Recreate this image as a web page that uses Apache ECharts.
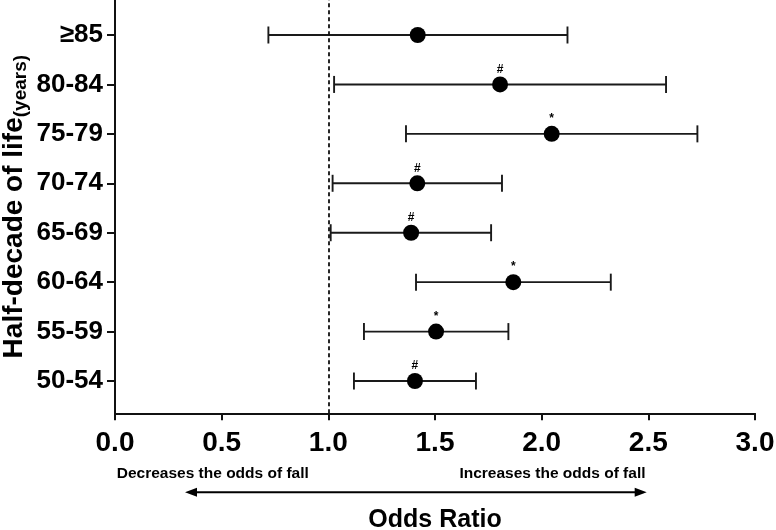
<!DOCTYPE html>
<html>
<head>
<meta charset="utf-8">
<script src="https://cdn.jsdelivr.net/npm/echarts@6/dist/echarts.min.js"></script>
<style>
html,body{margin:0;padding:0;background:#fff;}
#chart{width:776px;height:530px;}
</style>
</head>
<body>
<div id="chart"></div>
<script>
// ---- data ----
const categories = ['50-54', '55-59', '60-64', '65-69', '70-74', '75-79', '80-84', '\u226585'];
const oddsRatio = [1.406, 1.505, 1.867, 1.388, 1.417, 2.047, 1.805, 1.419];
const ciLower = [1.120, 1.167, 1.411, 1.011, 1.020, 1.364, 1.027, 0.719];
const ciUpper = [1.692, 1.844, 2.324, 1.763, 1.814, 2.730, 2.583, 2.121];
const significance = ['#', '*', '*', '#', '#', '*', '#', ''];
const xTickValues = [0, 0.5, 1.0, 1.5, 2.0, 2.5, 3.0];
const referenceOR = 1.0;

const FONT = "'Liberation Sans', Arial, Helvetica, sans-serif";
const positions = categories.map((c, i) => i + 1);

const chart = echarts.init(document.getElementById('chart'), null, {renderer: 'canvas'});

const errorData = categories.map((c, i) => [positions[i], ciLower[i], ciUpper[i]]);
const pointData = categories.map((c, i) => ({
  value: [oddsRatio[i], positions[i]],
  label: {formatter: significance[i]}
}));

const option = {
  animation: false,
  backgroundColor: '#fff',
  grid: {left: 115, right: 21, top: 0, bottom: 116.7, containLabel: false, outerBoundsMode: 'none'},
  xAxis: {
    type: 'value',
    min: xTickValues[0],
    max: xTickValues[xTickValues.length - 1],
    interval: 0.5,
    name: 'Odds Ratio',
    nameLocation: 'middle',
    nameGap: 94,
    nameMoveOverlap: false,
    nameTextStyle: {fontFamily: FONT, fontWeight: 'bold', fontSize: 25, color: '#000'},
    axisLine: {show: true, onZero: false, lineStyle: {color: '#111', width: 2}},
    axisTick: {show: true, length: 7, lineStyle: {color: '#111', width: 2}},
    axisLabel: {
      margin: 16, fontFamily: FONT, fontWeight: 'bold', fontSize: 28, color: '#000',
      formatter: v => v.toFixed(1)
    },
    splitLine: {show: false}
  },
  yAxis: {
    type: 'value',
    min: 0.347,
    max: 8.708,
    name: '{a|Half-decade of life}{b|(years)}',
    nameLocation: 'middle',
    nameRotate: 90,
    nameGap: 85,
    nameMoveOverlap: false,
    nameTextStyle: {
      rich: {
        a: {fontFamily: FONT, fontWeight: 'bold', fontSize: 28, color: '#000', lineHeight: 30, verticalAlign: 'top'},
        b: {fontFamily: FONT, fontWeight: 'bold', fontSize: 19, color: '#000', lineHeight: 3, verticalAlign: 'bottom'}
      }
    },
    axisLine: {show: true, onZero: false, lineStyle: {color: '#111', width: 2}},
    axisTick: {show: true, length: 8, customValues: positions, lineStyle: {color: '#111', width: 2}},
    axisLabel: {
      show: true, margin: 12, customValues: positions,
      fontFamily: FONT, fontWeight: 'bold', fontSize: 26, color: '#000',
      formatter: v => categories[Math.round(v) - 1] || ''
    },
    splitLine: {show: false}
  },
  series: [
    {
      type: 'custom',
      name: 'CI',
      encode: {x: [1, 2], y: 0},
      data: errorData,
      z: 2,
      renderItem: function (params, api) {
        const y = api.value(0);
        const lo = api.coord([api.value(1), y]);
        const hi = api.coord([api.value(2), y]);
        const h = 8.5;
        const style = {stroke: '#1a1a1a', lineWidth: 1.9, fill: null};
        return {
          type: 'group',
          children: [
            {type: 'line', shape: {x1: lo[0], y1: lo[1], x2: hi[0], y2: hi[1]}, style: style},
            {type: 'line', shape: {x1: lo[0], y1: lo[1] - h, x2: lo[0], y2: lo[1] + h}, style: style},
            {type: 'line', shape: {x1: hi[0], y1: hi[1] - h, x2: hi[0], y2: hi[1] + h}, style: style}
          ]
        };
      }
    },
    {
      type: 'scatter',
      name: 'OR',
      data: pointData,
      symbol: 'circle',
      symbolSize: 16,
      z: 3,
      itemStyle: {color: '#000', opacity: 1},
      label: {
        show: true, position: 'top', distance: 1,
        fontFamily: FONT, fontWeight: 'bold', fontSize: 12, color: '#000'
      },
      markLine: {
        silent: true,
        symbol: ['none', 'none'],
        label: {show: false},
        lineStyle: {type: [4, 3], color: '#111', width: 1.8},
        data: [{xAxis: referenceOR}]
      }
    }
  ],
  graphic: [
    {
      type: 'text', left: 116.7, top: 466,
      style: {text: 'Decreases the odds of fall', fontFamily: FONT, fontWeight: 'bold', fontSize: 15.5, fill: '#000'}
    },
    {
      type: 'text', right: 776 - 645.5, top: 466,
      style: {text: 'Increases the odds of fall', fontFamily: FONT, fontWeight: 'bold', fontSize: 15.5, fill: '#000', align: 'right'}
    },
    {
      type: 'line', shape: {x1: 192, y1: 492.3, x2: 640, y2: 492.3},
      style: {stroke: '#000', lineWidth: 2}
    },
    {
      type: 'polygon', shape: {points: [[185, 492.3], [197, 487.8], [197, 496.8]]},
      style: {fill: '#000'}
    },
    {
      type: 'polygon', shape: {points: [[646.7, 492.3], [634.7, 487.8], [634.7, 496.8]]},
      style: {fill: '#000'}
    }
  ]
};

chart.setOption(option);
</script>
</body>
</html>
